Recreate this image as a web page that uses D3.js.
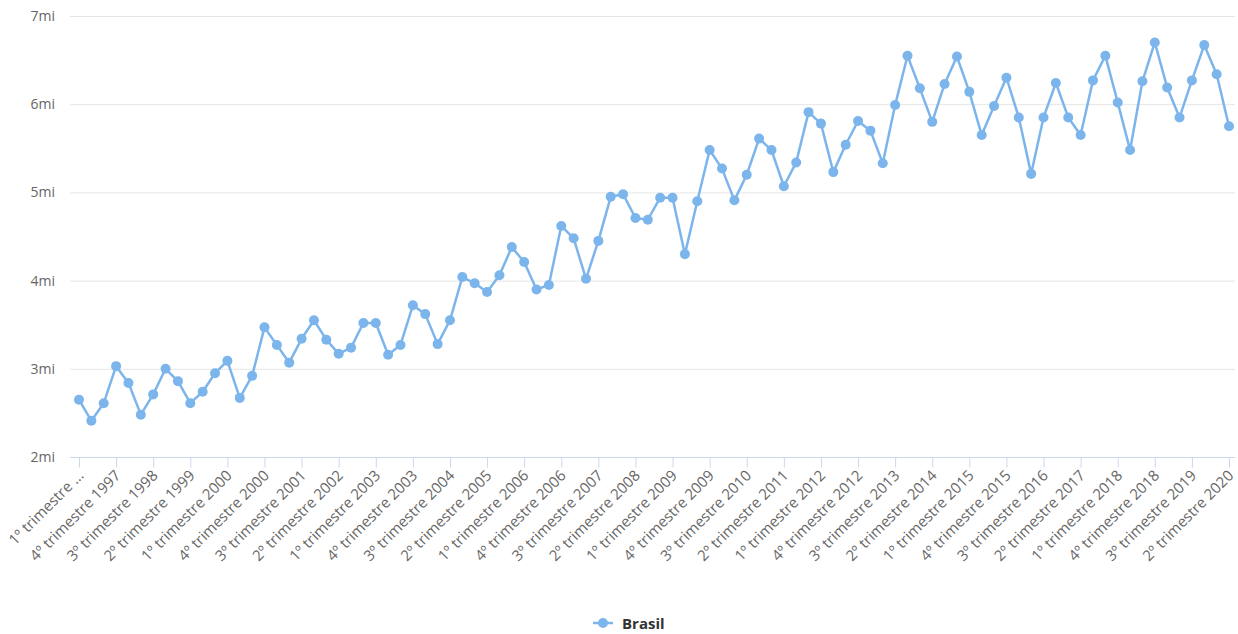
<!DOCTYPE html>
<html><head><meta charset="utf-8">
<script src="https://cdn.jsdelivr.net/npm/d3@7"></script>
<style>
body{margin:0;background:#fff;}
text{font-family:"Open Sans","Noto Sans",sans-serif;}
</style></head>
<body><svg id="c" width="1238" height="634"></svg>
<script>
const startYear = 1997;
const values = [
 2.65,2.41,2.61,3.03,2.84,2.48,2.71,3.00,2.86,2.61,
 2.74,2.95,3.09,2.67,2.92,3.47,3.27,3.07,3.34,3.55,
 3.33,3.17,3.24,3.52,3.52,3.16,3.27,3.72,3.62,3.28,
 3.55,4.04,3.97,3.87,4.06,4.38,4.21,3.90,3.95,4.62,
 4.48,4.02,4.45,4.95,4.98,4.71,4.69,4.94,4.94,4.30,
 4.90,5.48,5.27,4.91,5.20,5.61,5.48,5.07,5.34,5.91,
 5.78,5.23,5.54,5.81,5.70,5.33,5.99,6.55,6.18,5.80,
 6.23,6.54,6.14,5.65,5.98,6.30,5.85,5.21,5.85,6.24,
 5.85,5.65,6.27,6.55,6.02,5.48,6.26,6.70,6.19,5.85,
 6.27,6.67,6.34,5.75
];
const categories = values.map((v,i)=>`${(i%4)+1}º trimestre ${startYear+Math.floor(i/4)}`);
const yTicks = [2,3,4,5,6,7];
const yTickLabels = ["2mi","3mi","4mi","5mi","6mi","7mi"];
const seriesName = "Brasil";

const svg = d3.select("#c");
const color = "#7cb5ec";
const x = d3.scalePoint().domain(categories).range([79,1229]);
const y = d3.scaleLinear().domain([2,7]).range([457,16]);
const plotL = 70, plotR = 1235;

svg.append("g").selectAll("line").data(yTicks.slice(1)).join("line")
  .attr("x1",plotL).attr("x2",plotR)
  .attr("y1",d=>y(d)+0.5).attr("y2",d=>y(d)+0.5)
  .attr("stroke","#e6e6e6").attr("stroke-width",1);

svg.append("g").selectAll("text").data(yTicks).join("text")
  .attr("x",55).attr("y",d=>y(d)+5)
  .attr("text-anchor","end").attr("font-size",14).attr("fill","#666")
  .text((d,i)=>yTickLabels[i]);

const tickCats = categories.filter((c,i)=>i%3===0);
const xAxis = d3.axisBottom(x).tickValues(tickCats).tickSize(10).tickSizeOuter(0)
  .tickFormat((d,i)=> i===0 ? "1º trimestre ..." : d);
const gx = svg.append("g").attr("transform","translate(0,457.5)").call(xAxis);
gx.select(".domain").attr("d",`M${plotL},0H${plotR}`).attr("stroke","#ccd6eb");
gx.selectAll(".tick line").attr("stroke","#ccd6eb");
gx.selectAll(".tick text")
  .attr("font-size",15).attr("fill","#666")
  .attr("font-family","'Open Sans','Noto Sans',sans-serif")
  .attr("text-anchor","end")
  .attr("dy",null).attr("y",0).attr("x",0)
  .attr("transform","translate(5,19) rotate(-45)");

const line = d3.line().x((d,i)=>x(categories[i])).y(d=>y(d));
svg.append("path").datum(values).attr("d",line)
  .attr("fill","none").attr("stroke",color).attr("stroke-width",2.5)
  .attr("stroke-linejoin","round");
svg.append("g").selectAll("circle").data(values).join("circle")
  .attr("cx",(d,i)=>x(categories[i])).attr("cy",d=>y(d)).attr("r",5)
  .attr("fill",color);

const lg = svg.append("g").attr("transform","translate(603,623)");
lg.append("line").attr("x1",-10).attr("x2",10).attr("stroke",color).attr("stroke-width",2.5);
lg.append("circle").attr("r",5).attr("fill",color);
lg.append("text").attr("x",19).attr("y",5.5).attr("font-size",15).attr("font-weight","bold")
  .attr("fill","#333").text(seriesName);
</script></body></html>
